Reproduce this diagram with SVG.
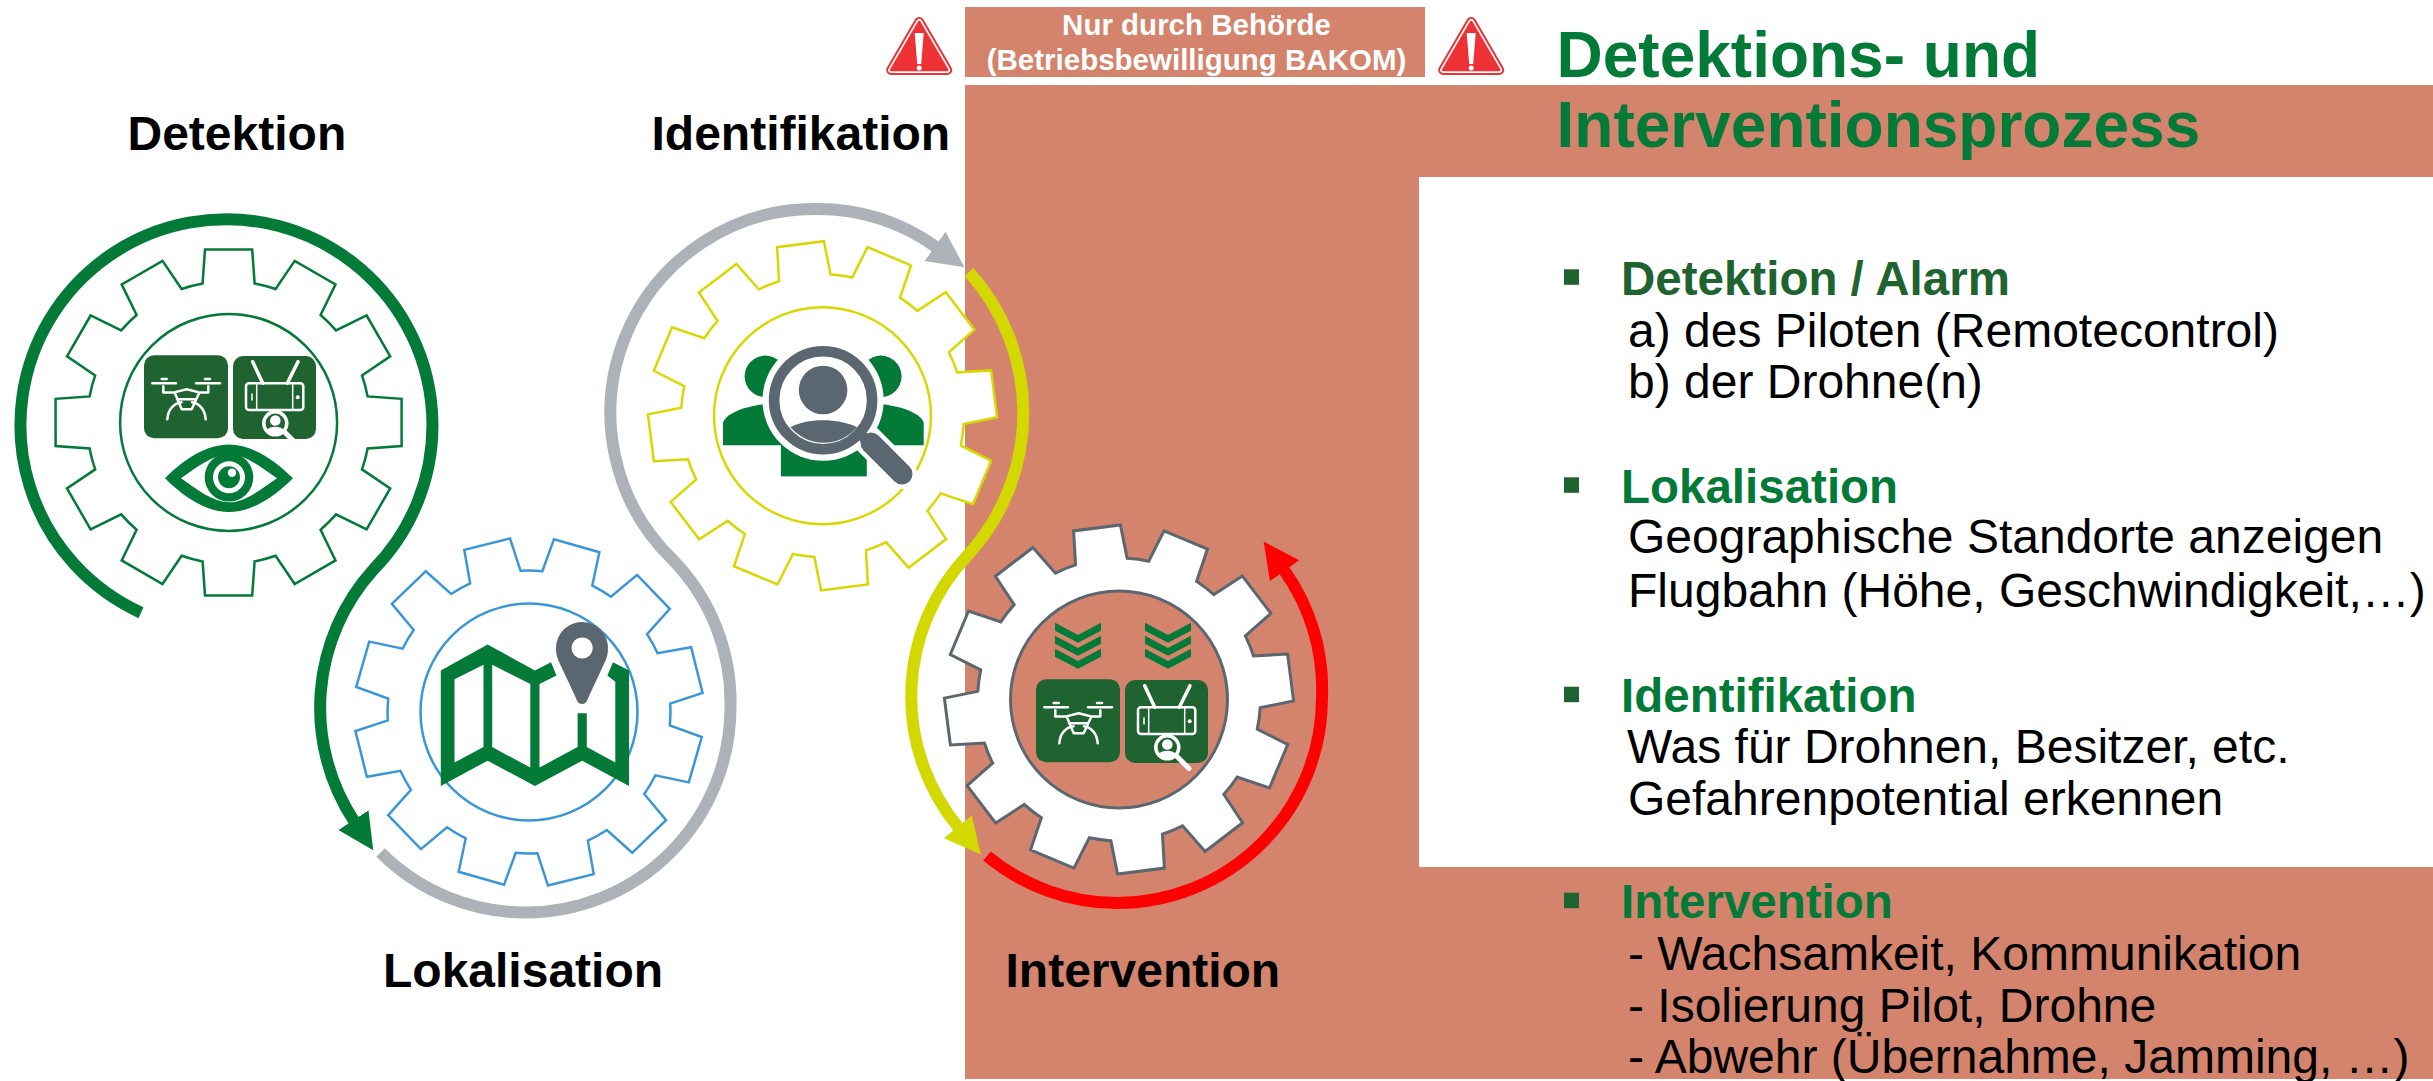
<svg xmlns="http://www.w3.org/2000/svg" xmlns:xlink="http://www.w3.org/1999/xlink" width="2433" height="1081" viewBox="0 0 2433 1081">
<style>
text{font-family:"Liberation Sans",Arial,sans-serif}
.lbl{font-size:48px;font-weight:700;fill:#000}
.title{font-size:64px;font-weight:700;fill:#037a37}
.h{font-size:47.5px;font-weight:700;fill:#037a37}
.b{font-size:48px;fill:#000}
.note{font-size:29.5px;font-weight:700;fill:#fff;text-anchor:middle}
.bul{fill:#1e6330}
.gear{fill:#fff;stroke-width:2.5}
.ring{fill:#fff;stroke-width:2.5}
.arc{fill:none;stroke-width:12}
.w{fill:none;stroke:#fff;stroke-width:2.5;stroke-linecap:round;stroke-linejoin:round}
.g{fill:#037a37}
.p{fill:#5b6770}
</style>
<defs>
<path id="gearShape" d="M-26,-139 L-23.6,-173 L23.6,-173 L26,-139 A141.4,141.4 0 0 1 47,-133.4 L66.1,-161.6 L106.9,-138 L92,-107.4 A141.4,141.4 0 0 1 107.4,-92 L138,-106.9 L161.6,-66.1 L133.4,-47 A141.4,141.4 0 0 1 139,-26 L173,-23.6 L173,23.6 L139,26 A141.4,141.4 0 0 1 133.4,47 L161.6,66.1 L138,106.9 L107.4,92 A141.4,141.4 0 0 1 92,107.4 L106.9,138 L66.1,161.6 L47,133.4 A141.4,141.4 0 0 1 26,139 L23.6,173 L-23.6,173 L-26,139 A141.4,141.4 0 0 1 -47,133.4 L-66.1,161.6 L-106.9,138 L-92,107.4 A141.4,141.4 0 0 1 -107.4,92 L-138,106.9 L-161.6,66.1 L-133.4,47 A141.4,141.4 0 0 1 -139,26 L-173,23.6 L-173,-23.6 L-139,-26 A141.4,141.4 0 0 1 -133.4,-47 L-161.6,-66.1 L-138,-106.9 L-107.4,-92 A141.4,141.4 0 0 1 -92,-107.4 L-106.9,-138 L-66.1,-161.6 L-47,-133.4 A141.4,141.4 0 0 1 -26,-139 Z"/>
<g id="droneTile">
<rect width="84" height="83" rx="10" fill="#1e6330"/>
<path class="w" d="M8.3,28 H32 M52,28 H76 M17.7,23.7 H22.7 M61,23.7 H66"/>
<path class="w" d="M19.3,31 V37.3 H29.3 L42.7,34 L56,37.3 H64.3 V31 M31,38 L37.7,54 H47.7 L55,38 M33,44 H52 M23.3,64 C24,54 30,48 37.5,47 M61.7,64 C61,54 55,48 48,47"/>
</g>
<g id="remoteTile">
<rect width="83" height="83" rx="10" fill="#1e6330"/>
<path class="w" style="stroke-width:3.5" d="M19.7,5.7 L29.7,27.3 M65,5.7 L54.3,27.3"/>
<rect class="w" x="13" y="27.3" width="57.3" height="26.7" rx="3"/>
<path class="w" style="stroke-width:1.5" d="M23.7,27.3 V54 M59.7,27.3 V54 M19,38 V44"/>
<circle cx="64.7" cy="41.3" r="2" fill="#fff"/>
<circle cx="42.3" cy="67.3" r="11.5" fill="#1e6330" stroke="#fff" stroke-width="3.5"/>
<circle cx="42.3" cy="64.5" r="5.3" fill="#fff"/>
<path d="M33.5,74 C37,69.5 47.5,69.5 51,74 C47,78.5 37.5,78.5 33.5,74 Z" fill="#fff"/>
<path d="M52,76.5 L64,88.5" stroke="#fff" stroke-width="5" stroke-linecap="round" fill="none"/>
</g>
<path id="chev" d="M-23,0 L0,12.3 L23,0 V8 L0,20 L-23,8 Z M-23,13 L0,25.3 L23,13 V21 L0,33 L-23,21 Z M-23,26 L0,38.3 L23,26 V34 L0,46 L-23,34 Z" class="g"/>
<g id="alert">
<path d="M0,-26 L-28,22 H28 Z" fill="#ee3135" stroke="#ee3135" stroke-width="10" stroke-linejoin="round"/>
<path d="M0,-26 L-28,22 H28 Z" fill="none" stroke="#fff" stroke-width="6" stroke-linejoin="round"/>
<path d="M0,-26 L-28,22 H28 Z" fill="#ee3135" stroke="#ee3135" stroke-width="2.5" stroke-linejoin="round"/>
<path d="M-4.5,-15 H4.5 L2,16 H-2 Z" fill="#fff"/>
<circle cx="0" cy="20" r="2.5" fill="#fff"/>
</g>
<marker id="mGreen" markerUnits="userSpaceOnUse" markerWidth="40" markerHeight="40" viewBox="0 -20 40 40" refX="1" refY="0" orient="auto"><path d="M0,-18 L36,0 L0,18 Z" fill="#037a37"/></marker>
<marker id="mGray" markerUnits="userSpaceOnUse" markerWidth="40" markerHeight="40" viewBox="0 -20 40 40" refX="1" refY="0" orient="auto"><path d="M0,-18 L36,0 L0,18 Z" fill="#adb2b8"/></marker>
<marker id="mYellow" markerUnits="userSpaceOnUse" markerWidth="40" markerHeight="40" viewBox="0 -20 40 40" refX="1" refY="0" orient="auto"><path d="M0,-18 L36,0 L0,18 Z" fill="#d2d800"/></marker>
<marker id="mRed" markerUnits="userSpaceOnUse" markerWidth="40" markerHeight="40" viewBox="0 -20 40 40" refX="1" refY="0" orient="auto"><path d="M0,-18 L36,0 L0,18 Z" fill="#ff0000"/></marker>
</defs>

<rect width="2433" height="1081" fill="#fff"/>
<g id="background">
<path d="M965,85 H2433 V177 H1419 V867 H2433 V1079 H965 Z" fill="#d4836d"/>
<rect x="965" y="7" width="460" height="70" fill="#d4836d"/>
</g>

<g id="node-detektion">
<g stroke="#037a37">
<use xlink:href="#gearShape" href="#gearShape" class="gear" transform="translate(228.6,422.4)"/>
<circle class="ring" cx="228.6" cy="422.4" r="108.5"/>
</g>
<use xlink:href="#droneTile" href="#droneTile" transform="translate(144,355.3)"/>
<use xlink:href="#remoteTile" href="#remoteTile" transform="translate(233,356)"/>
<g transform="translate(229,478.3)">
<path class="g" fill-rule="evenodd" d="M-64,0 C-44,-20 -22,-33.7 0,-33.7 C22,-33.7 44,-20 64,0 C44,20 22,33.7 0,33.7 C-22,33.7 -44,20 -64,0 Z M-48,0 C-32,11 -16,24 0,24 C16,24 32,11 48,0 C32,-11 16,-24 0,-24 C-16,-24 -32,-11 -48,0 Z"/>
<circle class="g" cy="-1" r="24.3"/>
<circle fill="#fff" cy="-1" r="16"/>
<circle class="g" cy="-1" r="11"/>
<circle fill="#fff" cx="3" cy="-5.5" r="4.2"/>
</g>
<text class="lbl" x="127.5" y="150">Detektion</text>
</g>

<g id="node-lokalisation">
<g stroke="#3a96d8">
<use xlink:href="#gearShape" href="#gearShape" class="gear" transform="translate(529,712) rotate(16)"/>
<circle class="ring" cx="529" cy="712" r="108.5"/>
</g>
<path class="g" fill-rule="evenodd" d="M440.8,670.5 L487.6,644.4 L534.9,670.5 L551,662.3 L556.5,675.4 L539.5,684.1 V767.5 L577.6,747.1 V713.2 H586.8 V747.1 L615.3,762.6 V681.7 L607.4,675.4 L613,662.3 L629,670.5 V785.9 L582.2,760.7 L534.9,785.9 L487.6,760.7 L440.8,785.9 Z M454.5,679.3 L483.5,664.7 V747.1 L454.5,762.6 Z M492.2,664.7 L530.3,684.1 V767.5 L492.2,747.1 Z"/>
<path class="p" d="M582.2,704 C578,704 577,701 575,696 L560,664 C557,658 556,654 556,648 A26,26 0 0 1 608,648 C608,654 607,658 604,664 L589,696 C587,701 586,704 582.2,704 Z"/>
<circle fill="#fff" cx="582.2" cy="648" r="10.6"/>
<text class="lbl" x="383" y="987">Lokalisation</text>
</g>

<g id="node-identifikation">
<g stroke="#d8d800">
<use xlink:href="#gearShape" href="#gearShape" class="gear" transform="translate(822.5,415.8) rotate(-7.3)"/>
<circle class="ring" cx="822.5" cy="415.8" r="108.5"/>
</g>
<circle class="g" cx="765.3" cy="376.3" r="20.7"/>
<circle class="g" cx="880.9" cy="376.3" r="20.7"/>
<path class="g" d="M723,445.2 V422.7 C726,412 751,403 783.7,403 V445.2 Z"/>
<path class="g" d="M923.7,445.2 V422.7 C920.7,412 895,403 862.5,403 V445.2 Z"/>
<rect class="g" x="780.9" y="429.6" width="85.9" height="46.8"/>
<circle cx="823.1" cy="400.2" r="60.6" fill="#fff"/>
<path d="M868,440 L902,474" stroke="#fff" stroke-width="30" stroke-linecap="round" fill="none"/>
<circle cx="823.1" cy="400.2" r="49" fill="#fff" stroke="#5b6770" stroke-width="10.6"/>
<circle class="p" cx="823.1" cy="390" r="24.3"/>
<path class="p" d="M790.5,427.3 C806.6,418 838.7,418 857,427.3 A43.6,43.6 0 0 1 790.5,427.3 Z"/>
<path d="M858,432 L872,446" stroke="#5b6770" stroke-width="10" fill="none"/>
<path d="M871,443 L902,474" stroke="#5b6770" stroke-width="21" stroke-linecap="round" fill="none"/>
<text class="lbl" x="651.5" y="150">Identifikation</text>
</g>

<g id="node-intervention">
<g stroke="#5b6770">
<use xlink:href="#gearShape" href="#gearShape" class="gear" style="stroke-width:3" transform="translate(1119,699.5) rotate(-7.3)"/>
<circle cx="1119" cy="699.5" r="108.5" fill="#d4836d" stroke-width="3"/>
</g>
<use xlink:href="#chev" href="#chev" transform="translate(1078,622.7)"/>
<use xlink:href="#chev" href="#chev" transform="translate(1168,622.7)"/>
<use xlink:href="#droneTile" href="#droneTile" transform="translate(1036,679.3)"/>
<use xlink:href="#remoteTile" href="#remoteTile" transform="translate(1125,680)"/>
<text class="lbl" x="1005.5" y="987">Intervention</text>
</g>

<g id="connectors">
<path class="arc" stroke="#037a37" marker-end="url(#mGreen)" d="M141,612.7 A206,206 0 1 1 373.5,569.5 A206,206 0 0 0 354,821"/>
<path class="arc" stroke="#adb2b8" marker-end="url(#mGray)" d="M380.6,852.4 A205,205 0 0 0 526,912.5 A205,205 0 0 0 730.5,708 A205,205 0 0 0 672,559 A204,204 0 0 1 817.5,209 A204,204 0 0 1 935.9,246.9"/>
<path class="arc" stroke="#d2d800" marker-end="url(#mYellow)" d="M969,272 A210,210 0 0 1 967,556 A205,205 0 0 0 958.5,827.5"/>
<path class="arc" stroke="#ff0000" marker-end="url(#mRed)" d="M987,856 A205,205 0 0 0 1117,903 A205,205 0 0 0 1322,698 A205,205 0 0 0 1284,570"/>
</g>

<g id="authority-note">
<use xlink:href="#alert" href="#alert" transform="translate(919.2,48)"/>
<use xlink:href="#alert" href="#alert" transform="translate(1471.2,48)"/>
<text class="note" x="1196.5" y="35">Nur durch Behörde</text>
<text class="note" x="1196.5" y="70">(Betriebsbewilligung BAKOM)</text>
</g>

<g id="title">
<text class="title" x="1556.5" y="76.7">Detektions- und</text>
<text class="title" x="1556.5" y="146.7">Interventionsprozess</text>
</g>

<g id="section-detektion">
<rect class="bul" x="1564" y="269.3" width="15" height="15.5"/>
<text class="h" x="1621" y="295" style="fill:#1e6330">Detektion / Alarm</text>
<text class="b" x="1628" y="346.7">a) des Piloten (Remotecontrol)</text>
<text class="b" x="1628" y="398.3">b) der Drohne(n)</text>
</g>
<g id="section-lokalisation">
<rect class="bul" x="1564" y="477.3" width="15" height="15.5"/>
<text class="h" x="1621" y="502.7">Lokalisation</text>
<text class="b" x="1628" y="553.3">Geographische Standorte anzeigen</text>
<text class="b" x="1628" y="607.3">Flugbahn (Höhe, Geschwindigkeit,…)</text>
</g>
<g id="section-identifikation">
<rect class="bul" x="1564" y="686.7" width="15" height="15.5"/>
<text class="h" x="1621" y="711.7">Identifikation</text>
<text class="b" x="1627" y="763.3">Was für Drohnen, Besitzer, etc.</text>
<text class="b" x="1628" y="815">Gefahrenpotential erkennen</text>
</g>
<g id="section-intervention">
<rect class="bul" x="1564" y="892.7" width="15" height="15.5"/>
<text class="h" x="1621" y="918.3">Intervention</text>
<text class="b" x="1628" y="970">- Wachsamkeit, Kommunikation</text>
<text class="b" x="1628" y="1021.7">- Isolierung Pilot, Drohne</text>
<text class="b" x="1628" y="1073.3">- Abwehr (Übernahme, Jamming, …)</text>
</g>
</svg>
